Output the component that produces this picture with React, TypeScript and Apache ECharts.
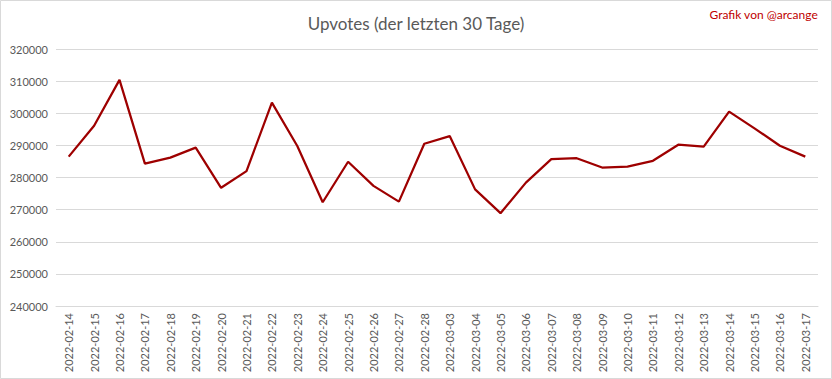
import React, { useEffect, useRef } from "react";
import * as echarts from "echarts";

const categories = [
  "2022-02-14", "2022-02-15", "2022-02-16", "2022-02-17", "2022-02-18", "2022-02-19",
  "2022-02-20", "2022-02-21", "2022-02-22", "2022-02-23", "2022-02-24", "2022-02-25",
  "2022-02-26", "2022-02-27", "2022-02-28", "2022-03-03", "2022-03-04", "2022-03-05",
  "2022-03-06", "2022-03-07", "2022-03-08", "2022-03-09", "2022-03-10", "2022-03-11",
  "2022-03-12", "2022-03-13", "2022-03-14", "2022-03-15", "2022-03-16", "2022-03-17",
];

const upvotes = [
  286500, 296100, 310400, 284300, 286200, 289300,
  276800, 282000, 303300, 289800, 272300, 284900,
  277400, 272500, 290500, 292900, 276300, 268900,
  278400, 285700, 286000, 283100, 283400, 285200,
  290200, 289600, 300500, 295300, 289900, 286500,
];

const FONT = "Lato, 'Open Sans', sans-serif";

export default function App() {
  const ref = useRef<HTMLDivElement>(null);
  useEffect(() => {
    document.body.style.margin = "0";
    const chart = echarts.init(ref.current!, null, { renderer: "svg" });
    chart.setOption({
      animation: false,
      backgroundColor: "#ffffff",
      title: {
        text: "Upvotes (der letzten 30 Tage)",
        left: "center",
        top: 10,
        textStyle: { fontFamily: FONT, fontSize: 17, fontWeight: "normal", color: "#595959" },
      },
      graphic: [
        {
          type: "rect",
          shape: { x: 0.5, y: 0.5, width: 831, height: 378 },
          style: { fill: "none", stroke: "#d9d9d9", lineWidth: 1 },
          silent: true,
        },
        {
          type: "text",
          right: 14,
          top: 8,
          style: { text: "Grafik von @arcange", fill: "#c00000", font: `12px ${FONT}` },
        },
      ],
      grid: { left: 56, right: 14, top: 49, bottom: 73 },
      xAxis: {
        type: "category",
        data: categories,
        boundaryGap: true,
        axisLine: { show: true, lineStyle: { color: "#d9d9d9", width: 1 } },
        axisTick: { show: false },
        axisLabel: { rotate: 90, color: "#595959", fontFamily: FONT, fontSize: 11, margin: 7, interval: 0 },
      },
      yAxis: {
        type: "value",
        min: 240000,
        max: 320000,
        interval: 10000,
        axisLine: { show: false },
        axisTick: { show: false },
        splitLine: { lineStyle: { color: "#d9d9d9", width: 1 } },
        axisLabel: {
          color: "#595959",
          fontFamily: FONT,
          fontSize: 11,
          margin: 8,
          formatter: (v: number) => String(v),
        },
      },
      series: [
        {
          type: "line",
          data: upvotes,
          symbol: "none",
          lineStyle: { color: "#9e0000", width: 2.25 },
        },
      ],
    });
    return () => chart.dispose();
  }, []);
  return <div ref={ref} style={{ width: 832, height: 379 }} />;
}
